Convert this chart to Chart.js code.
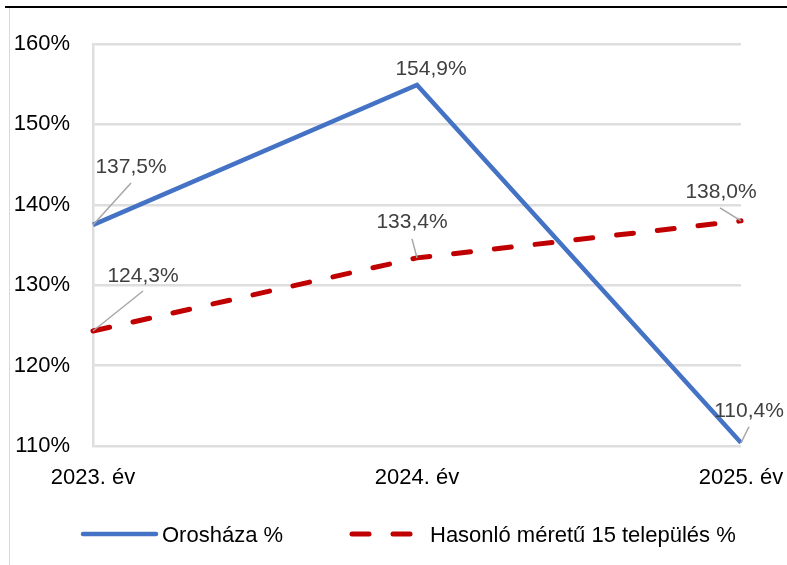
<!DOCTYPE html>
<html>
<head>
<meta charset="utf-8">
<script src="https://cdn.jsdelivr.net/npm/chart.js@4/dist/chart.umd.min.js"></script>
<style>
  html, body { margin: 0; padding: 0; background: #fff; }
  canvas { display: block; }
</style>
</head>
<body>
<canvas id="chart" width="787" height="565"></canvas>
<script>
const years      = ['2023. év', '2024. év', '2025. év'];
const oroshaza   = [137.5, 154.9, 110.4];
const hasonlo    = [124.3, 133.4, 138.0];
const seriesNames = ['Orosháza %', 'Hasonló méretű 15 település %'];

const FONT = '"Liberation Sans", Arial, sans-serif';

// label placement relative to each point: [dx, dy, leaderDx, leaderDy] (null = no leader)
const labelOffsets = [
  [[38, -59, 38, -42], [14, -18, null, null], [8, -33, 8, -16]],
  [[50, -57, 50, -40], [-5, -37, -5, -19], [-20, -30, -21, -13]]
];

const fmt = v => v.toFixed(1).replace('.', ',') + '%';

const frame = {
  id: 'frame',
  beforeDraw(chart) {
    const ctx = chart.ctx;
    ctx.save();
    ctx.strokeStyle = '#d9d9d9';
    ctx.lineWidth = 1;
    ctx.beginPath();
    ctx.moveTo(9.5, 8);
    ctx.lineTo(9.5, 565);
    ctx.stroke();
    ctx.strokeStyle = '#000';
    ctx.lineWidth = 2;
    ctx.beginPath();
    ctx.moveTo(5, 7);
    ctx.lineTo(787, 7);
    ctx.stroke();
    ctx.restore();
  }
};

const dataLabels = {
  id: 'dataLabels',
  afterDatasetsDraw(chart) {
    const ctx = chart.ctx;
    ctx.save();
    chart.data.datasets.forEach((ds, di) => {
      const meta = chart.getDatasetMeta(di);
      meta.data.forEach((pt, i) => {
        const [dx, dy, lx, ly] = labelOffsets[di][i];
        if (lx !== null) {
          ctx.strokeStyle = '#a6a6a6';
          ctx.lineWidth = 1.5;
          ctx.setLineDash([]);
          ctx.beginPath();
          ctx.moveTo(pt.x, pt.y);
          ctx.lineTo(pt.x + lx, pt.y + ly);
          ctx.stroke();
        }
        ctx.fillStyle = '#404040';
        ctx.font = '21px ' + FONT;
        ctx.textAlign = 'center';
        ctx.textBaseline = 'alphabetic';
        ctx.fillText(fmt(ds.data[i]), pt.x + dx, pt.y + dy + 7.5);
      });
    });
    ctx.restore();
  }
};

const customLegend = {
  id: 'customLegend',
  afterDraw(chart) {
    const ctx = chart.ctx;
    const items = [
      { x1: 83, x2: 156, tx: 162 },
      { x1: 352, x2: 416, tx: 430 }
    ];
    ctx.save();
    chart.data.datasets.forEach((ds, di) => {
      const it = items[di];
      ctx.strokeStyle = ds.borderColor;
      ctx.lineWidth = ds.borderWidth;
      ctx.lineCap = 'round';
      ctx.setLineDash(ds.borderDash || []);
      ctx.beginPath();
      ctx.moveTo(it.x1, 534);
      ctx.lineTo(it.x2, 534);
      ctx.stroke();
      ctx.setLineDash([]);
      ctx.fillStyle = '#000';
      ctx.font = '22px ' + FONT;
      ctx.textAlign = 'left';
      ctx.textBaseline = 'alphabetic';
      ctx.fillText(ds.label, it.tx, 542);
    });
    ctx.restore();
  }
};

new Chart(document.getElementById('chart').getContext('2d'), {
  type: 'line',
  data: {
    labels: years,
    datasets: [
      {
        label: seriesNames[0],
        data: oroshaza,
        borderColor: '#4472c4',
        borderWidth: 4.5,
        pointRadius: 0,
        tension: 0,
        clip: false
      },
      {
        label: seriesNames[1],
        data: hasonlo,
        borderColor: '#c00000',
        borderWidth: 5,
        borderDash: [17, 24],
        borderCapStyle: 'round',
        pointRadius: 0,
        tension: 0,
        clip: false
      }
    ]
  },
  options: {
    responsive: false,
    animation: false,
    devicePixelRatio: 1,
    layout: { autoPadding: false, padding: { top: 44, right: 46, bottom: 69, left: 0 } },
    plugins: {
      legend: { display: false },
      tooltip: { enabled: false }
    },
    scales: {
      x: {
        offset: false,
        grid: { display: false },
        border: { display: false },
        ticks: { color: '#000', font: { family: FONT, size: 22 }, padding: 11, maxRotation: 0 },
        afterFit: s => { s.height = 50; s.paddingLeft = 0; s.paddingRight = 0; }
      },
      y: {
        min: 110, max: 160,
        grid: { color: '#dedede', lineWidth: 2.5, drawTicks: false },
        border: { display: true, color: '#dedede', width: 2.5 },
        ticks: {
          stepSize: 10,
          color: '#000',
          padding: 23,
          font: { family: FONT, size: 22 },
          callback: v => v + '%'
        },
        afterFit: s => { s.width = 93; s.paddingTop = 0; s.paddingBottom = 0; }
      }
    }
  },
  plugins: [frame, dataLabels, customLegend]
});
</script>
</body>
</html>
